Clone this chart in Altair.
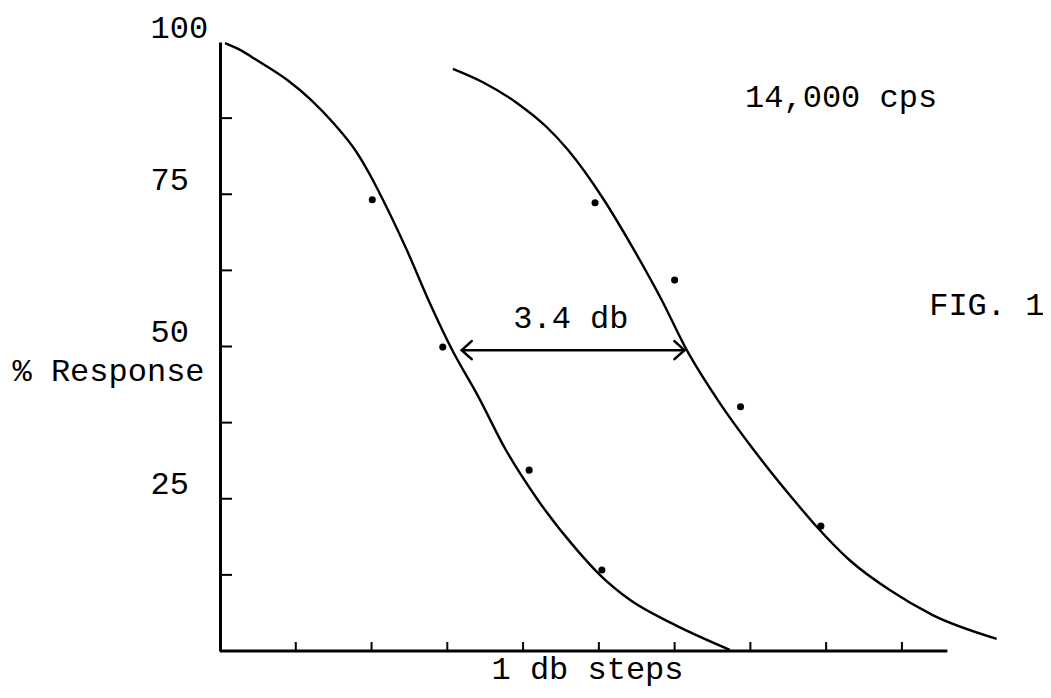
import altair as alt
import pandas as pd

# ---- data (x in 1-db steps, y in % response) ----
left_curve_x = [0.066, 0.264, 0.488, 0.884, 1.201, 1.517, 1.781, 1.979, 2.150, 2.467, 2.770,
                3.061, 3.404, 3.773, 4.195, 4.710, 5.013, 5.409, 6.003, 6.728]
left_curve_y = [99.8, 98.7, 97.0, 93.8, 90.5, 86.4, 82.3, 78.2, 74.1, 65.8, 57.1,
                49.5, 41.9, 33.0, 24.8, 16.6, 12.5, 8.4, 4.3, 0.2]
right_curve_x = [3.074, 3.470, 3.918, 4.314, 4.591, 5.066, 5.462, 5.831, 6.161, 6.570,
                 7.045, 7.573, 7.876, 8.311, 8.839, 9.406, 10.251]
right_curve_y = [95.6, 93.4, 90.0, 86.0, 82.3, 74.1, 65.9, 57.6, 49.4, 41.2,
                 33.0, 24.8, 20.4, 14.9, 10.0, 5.9, 2.0]

left_points_x = [2.01, 2.94, 4.08, 5.04]
left_points_y = [74.1, 49.9, 29.7, 13.3]
right_points_x = [4.95, 6.00, 6.87, 7.93]
right_points_y = [73.6, 60.9, 40.1, 20.5]

y_label_values = [25, 50, 75, 100]
y_tick_values = [12.5, 25, 37.5, 50, 62.5, 75, 87.5]
x_tick_values = [1, 2, 3, 4, 5, 6, 7, 8, 9]
x_axis_end = 9.6

arrow_from = 3.19
arrow_to = 6.13
arrow_level = 49.4

notes_text = ["3.4 db", "14,000 cps", "FIG. 1"]
notes_x = [3.87, 6.93, 9.36]
notes_y = [53.0, 89.3, 55.2]

FONT = "Liberation Mono"
FS = 32

curves = pd.DataFrame({
    "x": left_curve_x + right_curve_x,
    "y": left_curve_y + right_curve_y,
    "curve": ["left"] * len(left_curve_x) + ["right"] * len(right_curve_x),
})
points = pd.DataFrame({
    "x": left_points_x + right_points_x,
    "y": left_points_y + right_points_y,
})
notes = pd.DataFrame({"x": notes_x, "y": notes_y, "label": notes_text})

xs = alt.Scale(domain=[0, 10.4], nice=False, zero=False)
ys = alt.Scale(domain=[0, 100], nice=False, zero=True)

x_axis = alt.Axis(
    labels=False, ticks=False, domain=False, grid=False,
    title="1 db steps", titleFont=FONT, titleFontSize=FS, titleFontWeight="normal",
    titleColor="black", titleX=367, titleY=27, titleAlign="center",
    titleBaseline="alphabetic", titleAnchor="start",
)
y_axis = alt.Axis(
    values=y_label_values, ticks=False, tickSize=0, grid=False,
    domain=True, domainColor="black", domainWidth=3,
    labelAlign="left", labelPadding=70, labelOffset=-5, labelBaseline="alphabetic",
    labelFont=FONT, labelFontSize=FS, labelColor="black", labelFlush=False,
    labelOverlap=False,
    title="% Response", titleAngle=0, titleAlign="left", titleBaseline="alphabetic",
    titleX=-208, titleY=338, titleFont=FONT, titleFontSize=FS,
    titleFontWeight="normal", titleColor="black",
)

curve_layer = alt.Chart(curves).mark_line(
    color="black", strokeWidth=2.4, interpolate="monotone"
).encode(
    x=alt.X("x:Q", scale=xs, axis=x_axis),
    y=alt.Y("y:Q", scale=ys, axis=y_axis),
    detail="curve:N",
)

point_layer = alt.Chart(points).mark_circle(color="black", size=50, opacity=1).encode(
    x=alt.X("x:Q", scale=xs),
    y=alt.Y("y:Q", scale=ys),
)

x_line = alt.Chart(pd.DataFrame({"a": [0], "b": [x_axis_end], "y": [0]})).mark_rule(
    color="black", strokeWidth=3
).encode(
    x=alt.X("a:Q", scale=xs), x2="b:Q", y=alt.Y("y:Q", scale=ys)
)

x_ticks = alt.Chart(pd.DataFrame({"v": x_tick_values})).mark_tick(
    orient="vertical", size=9, thickness=2, color="black", opacity=1, yOffset=-4.5
).encode(
    x=alt.X("v:Q", scale=xs), y=alt.datum(0, scale=ys)
)

y_ticks = alt.Chart(pd.DataFrame({"v": y_tick_values})).mark_rule(
    color="black", strokeWidth=2
).encode(
    y=alt.Y("v:Q", scale=ys), x=alt.value(0), x2=alt.value(12)
)

arrow_df = pd.DataFrame({"a": [arrow_from], "b": [arrow_to], "y": [arrow_level]})
arrow_line = alt.Chart(arrow_df).mark_rule(color="black", strokeWidth=2.5).encode(
    x=alt.X("a:Q", scale=xs), x2="b:Q", y=alt.Y("y:Q", scale=ys)
)
head_left = alt.Chart(arrow_df).mark_point(
    shape="M1,-0.9L0,0L1,0.9", filled=False, size=400, strokeWidth=2.6,
    color="black", opacity=1, strokeCap="round", strokeJoin="miter",
).encode(x=alt.X("a:Q", scale=xs), y=alt.Y("y:Q", scale=ys))
head_right = alt.Chart(arrow_df).mark_point(
    shape="M-1,-0.9L0,0L-1,0.9", filled=False, size=400, strokeWidth=2.6,
    color="black", opacity=1, strokeCap="round", strokeJoin="miter",
).encode(x=alt.X("b:Q", scale=xs), y=alt.Y("y:Q", scale=ys))

text_layer = alt.Chart(notes).mark_text(
    align="left", baseline="alphabetic", font=FONT, fontSize=FS, color="black"
).encode(
    x=alt.X("x:Q", scale=xs), y=alt.Y("y:Q", scale=ys), text="label:N"
)

chart = alt.layer(
    curve_layer, x_line, x_ticks, y_ticks, point_layer,
    arrow_line, head_left, head_right, text_layer,
).properties(
    width=788, height=609,
    autosize=alt.AutoSizeParams(type="none"),
    padding={"left": 212, "top": 34, "right": 35, "bottom": 39},
    background="white",
).configure_view(stroke=None)

chart.save("out.html", embed_options={"renderer": "svg", "actions": False})
